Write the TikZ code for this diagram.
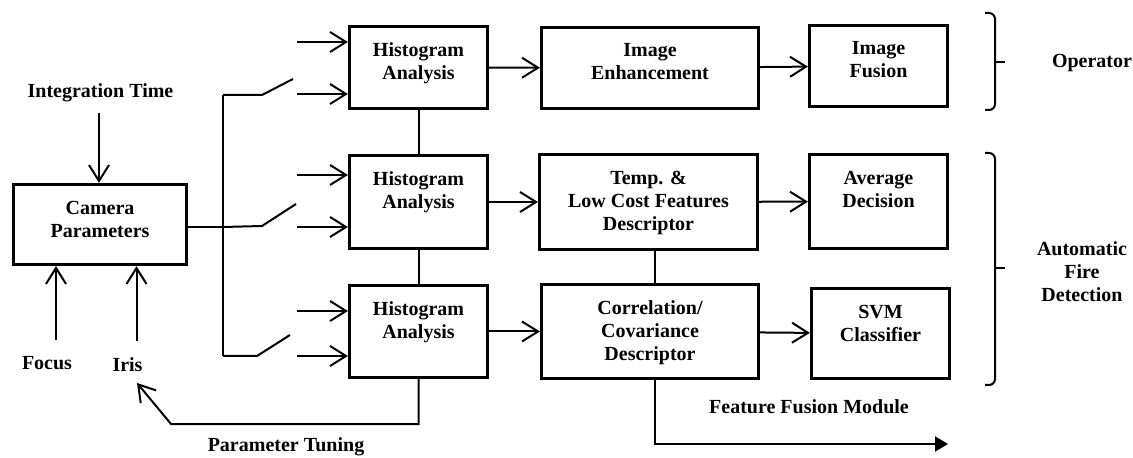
\documentclass[tikz,border=0pt]{standalone}
\usepackage{fontspec}
\setmainfont{Liberation Serif}
\usetikzlibrary{arrows.meta}
\tikzstyle{block} = [rectangle, draw=black, line width=1.6pt, inner sep=0pt]
\tikzstyle{blocktext} = [anchor=north, yshift=-8.8pt, align=center, inner sep=0pt, font=\bfseries\fontsize{10}{11.5}\selectfont]
\tikzstyle{txt} = [align=center, inner sep=0pt, font=\bfseries\fontsize{10}{11.5}\selectfont]
\tikzstyle{line} = [line width=1pt]
\tikzstyle{arrow} = [line width=1pt, -{Straight Barb[length=8pt,width=10pt]}]
\tikzstyle{bigarrow} = [line width=1pt, -{Triangle[length=6.5pt,width=7.5pt]}]
\begin{document}
\begin{tikzpicture}[x=0.5pt, y=-0.5pt]
\useasboundingbox (0,0) rectangle (1133,458);

% blocks
\node (cam) [block, minimum width=86.5pt, minimum height=40pt, label={[blocktext]north:{Camera\\Parameters}}] at (100,224.5) {};
\node (hist1) [block, minimum width=69pt, minimum height=41pt, label={[blocktext]north:{Histogram\\Analysis}}] at (418.5,67.5) {};
\node (hist2) [block, minimum width=69pt, minimum height=46.5pt, label={[blocktext]north:{Histogram\\Analysis}}] at (418.5,202) {};
\node (hist3) [block, minimum width=69pt, minimum height=46pt, label={[blocktext]north:{Histogram\\Analysis}}] at (418.5,331.5) {};
\node (enh) [block, minimum width=108.5pt, minimum height=40.5pt, label={[blocktext]north:{Image\\Enhancement}}] at (650,68) {};
\node (fus) [block, minimum width=69pt, minimum height=40.5pt, label={[blocktext]north:{Image\\Fusion}}] at (878.5,66) {};
\node (temp) [block, minimum width=109pt, minimum height=47.5pt, label={[blocktext]north:{Temp. \&\\Low Cost Features\\Descriptor}}] at (648.5,202) {};
\node (avg) [block, minimum width=69pt, minimum height=47pt, label={[blocktext]north:{Average\\Decision}}] at (878.5,201.5) {};
\node (corr) [block, minimum width=108.5pt, minimum height=47pt, label={[blocktext]north:{Correlation/\\Covariance\\Descriptor}}] at (650,331.5) {};
\node (svm) [block, minimum width=69pt, minimum height=45pt, label={[blocktext]north:{SVM\\Classifier}}] at (880.5,333.5) {};

% labels
\node (intime) [txt] at (100.5,93) {Integration Time};
\node (focus) [txt] at (47,363) {Focus};
\node (iris) [txt] at (127.5,365) {Iris};
\node (tuning) [txt] at (286,447) {Parameter Tuning};
\node (ffm) [txt] at (809,407) {Feature Fusion Module};
\node (oper) [txt] at (1092,63) {Operator};
\node (afd) [txt] at (1082,271.5) {Automatic\\Fire\\Detection};

% camera inputs
\coordinate (intin) at (99,113);
\coordinate (focusin) at (56,340);
\coordinate (irisin) at (136.5,341);
\draw [arrow] (intin) -- (intin |- cam.north);
\draw [arrow] (focusin) -- (focusin |- cam.south);
\draw [arrow] (irisin) -- (irisin |- cam.south);

% bus and switches
\coordinate (bustop) at (223,95);
\coordinate (busmid) at (223,227);
\coordinate (busbot) at (223,356);
\draw [line] (cam.east |- busmid) -- (busmid);
\draw [line] (bustop) -- (busbot);
\draw [line] (bustop) -- (262,95) -- (293,79);
\draw [line] (busmid) -- (262,226) -- (296,204);
\draw [line] (busbot) -- (257,356) -- (290,335);

\foreach \blk/\ya/\yb in {hist1/42/94, hist2/175/227, hist3/311/356} {
  \coordinate (ina) at (297,\ya);
  \coordinate (inb) at (297,\yb);
  \draw [arrow] (ina) -- (ina -| \blk.west);
  \draw [arrow] (inb) -- (inb -| \blk.west);
}

% main flow
\draw [arrow] (hist1) -- (enh);
\draw [arrow] (enh) -- (fus);
\draw [arrow] (hist2) -- (temp);
\draw [arrow] (temp) -- (avg);
\draw [arrow] (hist3) -- (corr);
\draw [arrow] (corr) -- (svm);
\draw [line] (hist1) -- (hist2);
\draw [line] (hist2) -- (hist3);
\draw [line] ([xshift=3pt]temp.south) -- ([xshift=3pt]temp.south |- corr.north);

% feedback and fusion output
\coordinate (tune) at (171,424);
\coordinate (tuneend) at (137,383);
\draw [arrow] (hist3.south) |- (tune) -- (tuneend);
\coordinate (ffmend) at (948,444);
\draw [bigarrow] ([xshift=2.5pt]corr.south) |- (ffmend);

% brackets
\draw [line, rounded corners=3pt] (985,13) -| (995,110) -- (985,110);
\draw [line] (995,62) -- (1005,62);
\draw [line, rounded corners=3pt] (985,153) -| (995,385) -- (985,385);
\draw [line] (995,268) -- (1005,268);

\end{tikzpicture}
\end{document}
